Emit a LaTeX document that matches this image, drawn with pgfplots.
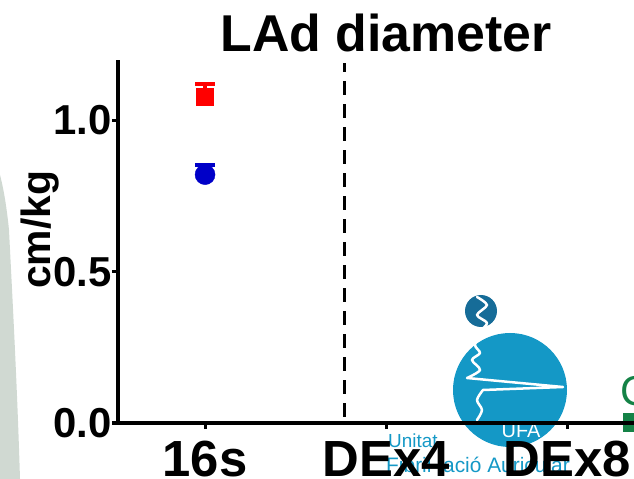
\documentclass[border=0pt]{standalone}
\usepackage{pgfplots}
\pgfplotsset{compat=1.18}
\usepackage{fontspec}
\setmainfont{Liberation Sans}
\definecolor{ufablue}{RGB}{20,152,198}
\definecolor{ufadark}{RGB}{22,108,152}
\definecolor{bgrey}{RGB}{208,217,210}
\definecolor{mred}{RGB}{255,0,0}
\definecolor{mblue}{RGB}{0,0,200}
\definecolor{ufagreen}{RGB}{20,130,70}

\begin{document}
\begin{tikzpicture}
% backdrop, drawn in a top-left / y-down frame
\begin{scope}[x=1bp,y=-1bp,shift={(0,-479)}]
  \fill[bgrey] (0,175) .. controls (4,190) and (7,210) .. (9,230)
    .. controls (12,290) and (17,380) .. (20,479) -- (0,479) -- cycle;
  \fill[ufablue] (510,390) circle[radius=57];
  \fill[ufadark] (481,311) circle[radius=16];
  \draw[white, line width=2.5bp, line cap=round, line join=round]
    plot[smooth] coordinates {(477,297) (487,305) (477,315) (487,323) (480,332) (475,345) (480,353) (472,360) (480,370) (467,378)}
    -- (563,387) --
    plot[smooth] coordinates {(483,390) (477,400) (482,410) (477,420)};
  \node[white, font=\fontsize{20}{20}\selectfont, anchor=base] at (521,437) {UFA};
  \node[ufablue, font=\fontsize{19}{19}\selectfont, anchor=base west, inner sep=0] at (388,447) {Unitat};
  \node[ufablue, font=\fontsize{21}{21}\selectfont, anchor=base west, inner sep=0] at (386,472) {Fibril·lació Auricular};
  \node[ufagreen, font=\fontsize{42}{42}\selectfont, anchor=base west, inner sep=0] at (620,405) {C};
  \fill[ufagreen] (623,413) rectangle (634,432);
\end{scope}

\begin{axis}[
  at={(118bp,56bp)}, anchor=south west,
  scale only axis, width=516bp, height=363bp,
  xmin=-0.481, xmax=2.370, ymin=0, ymax=1.2,
  axis lines=left, axis line style={line width=4bp, -},
  xtick={0,1,2}, xticklabels={16s,DEx4,DEx8},
  ytick={0,0.5,1},
  tick align=outside, major tick length=6bp,
  tick style={line width=3bp, black},
  yticklabel style={font=\bfseries\fontsize{42}{42}\selectfont, anchor=east, inner sep=0pt},
  xticklabel style={font=\bfseries\fontsize{51}{51}\selectfont, anchor=base, inner sep=0pt, yshift=-47bp},
  /pgf/number format/.cd, fixed, fixed zerofill, precision=1, assume math mode=true,
  /pgfplots/.cd,
  ylabel={cm/kg},
  ylabel style={font=\bfseries\fontsize{41}{41}\selectfont, at={([xshift=-78bp]rel axis cs:0,0.532)}, anchor=center},
  clip=false,
]
% separator between baseline and exercise phases
\addplot[black, line width=3bp, dash pattern=on 14bp off 9bp] coordinates {(0.773,0.02) (0.773,1.19)};
% group means with upper error
\addplot[only marks, mark=square*, mark size=8.5bp, color=mred,
  error bars/.cd, y dir=plus, y explicit,
  error mark=-,
  error mark options={rotate=90, line width=4bp, mark size=10bp},
  error bar style={line width=4bp}]
  coordinates {(0,1.079) +- (0,0.042)};
\addplot[only marks, mark=*, mark size=10bp, color=mblue,
  error bars/.cd, y dir=plus, y explicit,
  error mark=-,
  error mark options={rotate=90, line width=4bp, mark size=10bp},
  error bar style={line width=4bp}]
  coordinates {(0,0.821) +- (0,0.033)};
\end{axis}

\node[anchor=base, font=\bfseries\fontsize{52}{52}\selectfont, inner sep=0] at (386bp,427bp) {LAd diameter};

\pgfresetboundingbox
\path[use as bounding box] (0,0) rectangle (634bp,479bp);
\end{tikzpicture}
\end{document}
